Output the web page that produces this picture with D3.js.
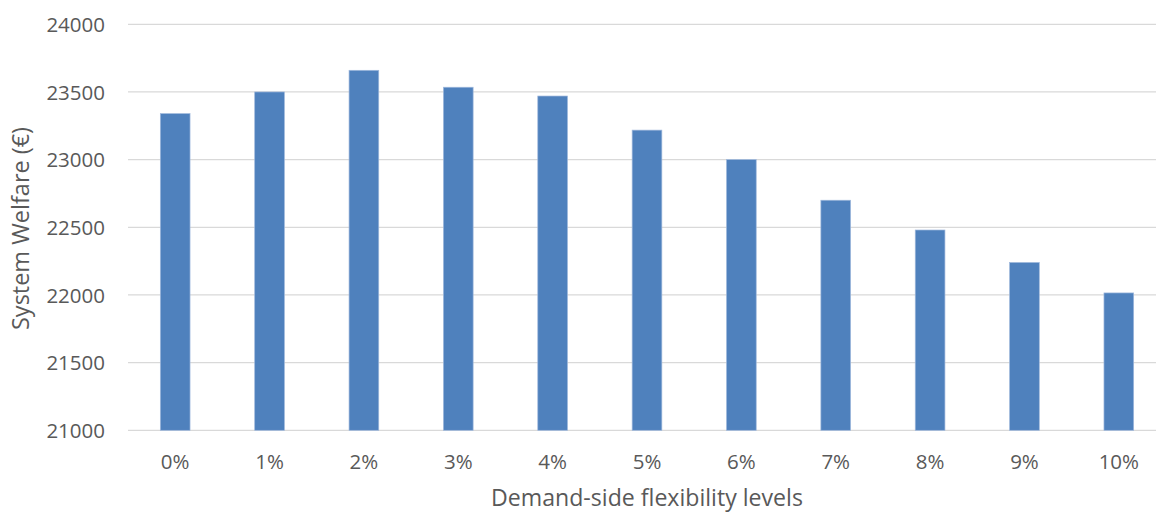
<!DOCTYPE html>
<html><head><meta charset="utf-8">
<script src="https://cdn.jsdelivr.net/npm/d3@7"></script>
<style>
html,body{margin:0;padding:0;background:#fff;}
svg{display:block;}
text{font-family:"Open Sans",sans-serif;fill:#595959;}
</style></head>
<body>
<svg id="chart" width="1156" height="512"></svg>
<script>
const categories = ["0%","1%","2%","3%","4%","5%","6%","7%","8%","9%","10%"];
const welfare = [23340, 23500, 23660, 23535, 23470, 23218, 23000, 22700, 22480, 22240, 22015];
const yTicks = [21000, 21500, 22000, 22500, 23000, 23500, 24000];
const xTitle = "Demand-side flexibility levels";
const yTitle = "System Welfare (€)";

(function () {
const svg = d3.select("#chart");
const mLeft = 128, mRight = 1166, mTop = 24.3, mBottom = 430.3;

const pIn = 1 - 29.7 / (1038 / 11);
const x = d3.scaleBand().domain(categories).range([mLeft, mRight]).paddingInner(pIn).paddingOuter(pIn / 2);
const y = d3.scaleLinear().domain([21000, 24000]).range([mBottom, mTop]);

// gridlines
svg.append("g").selectAll("line").data(yTicks).join("line")
  .attr("x1", mLeft).attr("x2", mRight)
  .attr("y1", d => y(d)).attr("y2", d => y(d))
  .attr("stroke", "#d9d9d9").attr("stroke-width", 1.2);

// bars
svg.append("g").selectAll("rect").data(welfare).join("rect")
  .attr("x", (d, i) => x(categories[i]))
  .attr("width", x.bandwidth())
  .attr("y", d => y(d))
  .attr("height", d => y(21000) - y(d))
  .attr("fill", "#4f81bd")
  .attr("stroke", "#9fb8dc").attr("stroke-width", 0.7);

// y axis labels
const yAxis = d3.axisLeft(y).tickValues(yTicks).tickSize(0).tickPadding(0).tickFormat(d3.format("d"));
const gy = svg.append("g").attr("transform", "translate(105,0)").call(yAxis);
gy.select(".domain").remove();
gy.selectAll("text").style("font-size", "20.5px").style("font-family", "'Open Sans',sans-serif").attr("fill", "#595959").attr("dy", "0.35em");

// x axis labels
const xAxis = d3.axisBottom(x).tickSize(0).tickPadding(0);
const gx = svg.append("g").attr("transform", "translate(0,469)").call(xAxis);
gx.select(".domain").remove();
gx.selectAll("text").style("font-size", "20.5px").style("font-family", "'Open Sans',sans-serif").attr("fill", "#595959").attr("dy", 0);

// titles (fitted to the reference text extents)
function fit(sel, target) {
  sel.style("font-size", "20px");
  const w = sel.node().getComputedTextLength();
  sel.style("font-size", (20 * target / w).toFixed(2) + "px");
}
const xt = svg.append("text").attr("x", (mLeft + mRight) / 2).attr("y", 506)
  .attr("text-anchor", "middle").text(xTitle);
fit(xt, 312);
const yt = svg.append("text").attr("transform", "translate(29,228.5) rotate(-90)")
  .attr("text-anchor", "middle").text(yTitle);
fit(yt, 203);
})();
</script>
</body></html>
